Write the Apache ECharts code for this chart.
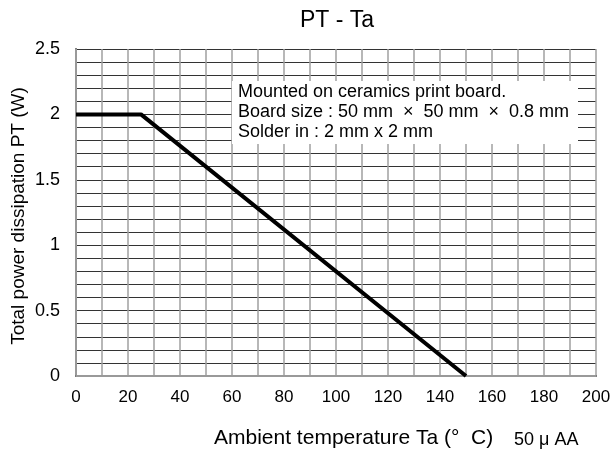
<!DOCTYPE html>
<html><head><meta charset="utf-8">
<script src="https://cdn.jsdelivr.net/npm/echarts@6/dist/echarts.min.js"></script>
<style>html,body{margin:0;padding:0;background:#fff}#c{width:614px;height:459px}</style>
</head><body><div id="c"></div>
<script>
const temps = [0, 25, 150];
const power = [2, 2, 0];
const xTicks = [0, 20, 40, 60, 80, 100, 120, 140, 160, 180, 200];
const yTicks = [0, 0.5, 1, 1.5, 2, 2.5];
const titleText = 'PT - Ta';
const xName = 'Ambient temperature Ta (°  C)';
const xNameSuffix = '50 μ AA';
const yName = 'Total power dissipation PT (W)';
const noteLines = ['Mounted on ceramics print board.', 'Board size : 50 mm  ×  50 mm  ×  0.8 mm', 'Solder in : 2 mm x 2 mm'];

const F = 'Arial, "Liberation Sans", sans-serif';
const chart = echarts.init(document.getElementById('c'), null, {renderer: 'canvas'});
chart.setOption({
  animation: false,
  backgroundColor: '#fff',
  title: {text: titleText, left: 332, top: 4, textAlign: 'center',
    textStyle: {fontFamily: F, fontSize: 23, fontWeight: 'normal', color: '#000'}},
  grid: {left: 76, top: 49, right: 18, bottom: 83},
  xAxis: [{
    type: 'value', min: xTicks[0], max: xTicks[xTicks.length - 1], interval: xTicks[1] - xTicks[0],
    axisLine: {show: true, onZero: false, lineStyle: {color: '#000', width: 2}},
    axisTick: {show: false},
    axisLabel: {margin: 13, fontFamily: F, fontSize: 17, color: '#000'},
    splitLine: {show: true, lineStyle: {color: '#a0a0a0', width: 1.5}},
    minorTick: {show: false, splitNumber: 2},
    minorSplitLine: {show: true, lineStyle: {color: '#a0a0a0', width: 1.5}}
  }, {
    type: 'value', position: 'top', min: 0, max: 200,
    axisLine: {show: true, lineStyle: {color: '#999', width: 2}},
    axisTick: {show: false}, axisLabel: {show: false}, splitLine: {show: false}
  }],
  yAxis: [{
    type: 'value', min: yTicks[0], max: yTicks[yTicks.length - 1], interval: yTicks[1] - yTicks[0],
    axisLine: {show: true, onZero: false, lineStyle: {color: '#000', width: 2}},
    axisTick: {show: false},
    axisLabel: {margin: 16, fontFamily: F, fontSize: 18, color: '#000'},
    splitLine: {show: true, lineStyle: {color: '#333', width: 1}},
    minorTick: {show: false, splitNumber: 5},
    minorSplitLine: {show: true, lineStyle: {color: '#333', width: 1}}
  }, {
    type: 'value', position: 'right', min: 0, max: 2.5,
    axisLine: {show: true, lineStyle: {color: '#999', width: 2}},
    axisTick: {show: false}, axisLabel: {show: false}, splitLine: {show: false}
  }],
  series: [{
    type: 'line', xAxisIndex: 0, yAxisIndex: 0,
    data: temps.map((t, i) => [t, power[i]]),
    symbol: 'none', lineStyle: {color: '#000', width: 4}, z: 5
  }],
  graphic: [
    {type: 'rect', z: 10, shape: {x: 232, y: 81, width: 346, height: 63}, style: {fill: '#fff'}},
    {type: 'text', z: 11, left: 238, top: 82,
      style: {text: noteLines.join('\n'), font: '18px ' + F, lineHeight: 20, fill: '#000'}},
    {type: 'text', z: 11, x: 19, y: 216, rotation: Math.PI / 2,
      style: {text: yName, font: '19px ' + F, fill: '#000', align: 'center', verticalAlign: 'middle'}},
    {type: 'text', z: 11, left: 214, top: 428,
      style: {text: xName, font: '21px ' + F, fill: '#000'}},
    {type: 'text', z: 11, left: 514, top: 431,
      style: {text: xNameSuffix, font: '18px ' + F, fill: '#000'}}
  ]
});
</script></body></html>
